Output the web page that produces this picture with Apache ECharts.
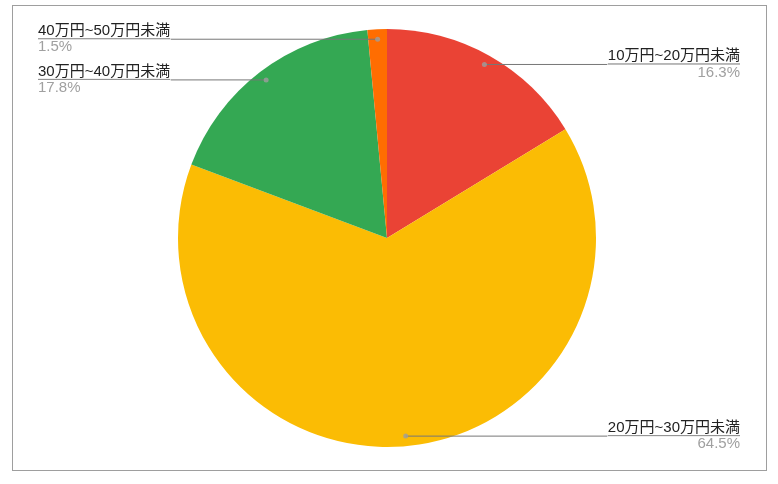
<!DOCTYPE html>
<html>
<head>
<meta charset="utf-8">
<script src="https://cdn.jsdelivr.net/npm/echarts@6/dist/echarts.min.js"></script>
<style>
  html, body { margin: 0; padding: 0; background: #fff; }
  #chart { width: 778px; height: 484px; }
  #frame {
    position: absolute; left: 12px; top: 5px; width: 753px; height: 464px;
    border: 1px solid #9e9e9e; pointer-events: none;
  }
</style>
</head>
<body>
<div id="chart"></div>
<div id="frame"></div>
<script>
// 月額の区分と割合
const categories = ['10万円~20万円未満', '20万円~30万円未満', '30万円~40万円未満', '40万円~50万円未満'];
const shares = [16.3, 64.5, 17.8, 1.5];
const colors = ['#ea4335', '#fbbc04', '#34a853', '#ff6d01'];

const total = shares.reduce((a, b) => a + b, 0);
const pieData = categories.map((name, i) => ({ name: name, value: shares[i] }));

// 引き出し線の起点の点（各スライスの中央角）
let acc = 0;
const dotData = shares.map(v => {
  const mid = acc + v / 2;
  acc += v;
  return [0.952, mid];
});

const font = '"Liberation Sans", Arial, "Noto Sans CJK JP", sans-serif';

const chart = echarts.init(document.getElementById('chart'));
chart.setOption({
  animation: false,
  color: colors,
  polar: { center: [387, 238], radius: 209 },
  angleAxis: {
    type: 'value', min: 0, max: total, startAngle: 90, clockwise: true,
    show: false, splitLine: { show: false }
  },
  radiusAxis: { type: 'value', min: 0, max: 1, show: false, splitLine: { show: false } },
  series: [
    {
      type: 'pie',
      center: [387, 238],
      radius: 209,
      startAngle: 90,
      clockwise: true,
      silent: true,
      label: { show: false },
      labelLine: { show: false },
      data: pieData
    },
    {
      // ラベル用（透明）
      type: 'pie',
      center: [387, 238],
      radius: 199,
      startAngle: 90,
      clockwise: true,
      silent: true,
      z: 3,
      itemStyle: { color: 'rgba(0,0,0,0)' },
      label: {
        show: true,
        position: 'outside',
        alignTo: 'edge',
        edgeDistance: 38,
        distanceToLabelLine: 0,
        fontFamily: font,
        formatter: p => '{n|' + p.name + '}\n{hr|}\n{p|' + p.value.toFixed(1) + '%}',
        rich: {
          n: { fontSize: 15, color: '#222222', lineHeight: 16, fontFamily: font },
          hr: { width: '100%', height: 0, borderWidth: 0.6, borderColor: '#777777' },
          p: { fontSize: 15, color: '#a0a0a0', lineHeight: 17, fontFamily: font }
        }
      },
      labelLine: {
        show: true,
        length: 0,
        length2: 10,
        lineStyle: { color: '#777777', width: 1 }
      },
      data: pieData
    },
    {
      type: 'scatter',
      coordinateSystem: 'polar',
      silent: true,
      z: 4,
      symbolSize: 5,
      itemStyle: { color: '#9e9e9e' },
      data: dotData
    }
  ]
});
</script>
</body>
</html>
